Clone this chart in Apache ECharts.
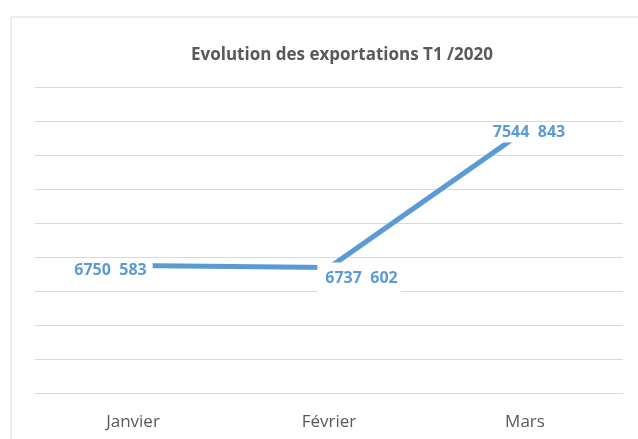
<!DOCTYPE html>
<html>
<head>
<meta charset="utf-8">
<script src="https://cdn.jsdelivr.net/npm/echarts@6/dist/echarts.min.js"></script>
<style>
  html, body { margin: 0; padding: 0; background: #fff; }
  #main { width: 638px; height: 439px; }
</style>
</head>
<body>
<div id="main"></div>
<script>
// données T1 2020
var mois = ["Janvier", "Février", "Mars"];
var exportations = [6750583, 6737602, 7544843];

// position des étiquettes (comme dans excel)
var labelOffsets = [[-21, 5], [30, 11], [4, 2]];
var labelPadding = [[2, 6, 2, 3], [14, 3, 2, 8], [2, 3, 2, 3]];

function formatNombre(v) {
  var s = String(v);
  return s.slice(0, -3) + "\u00a0\u00a0" + s.slice(-3);
}

var myChart = echarts.init(document.getElementById("main"));

var points = exportations.map(function (v, i) {
  return {
    value: v,
    label: {
      offset: labelOffsets[i],
      padding: labelPadding[i],
    },
  };
});

var option = {
  textStyle: { fontFamily: "Open Sans" },
  title: {
    text: "Evolution des exportations T1 /2020",
    left: 186,
    top: 42,
    textStyle: {
      fontFamily: "Open Sans",
      fontSize: 17,
      fontWeight: "bold",
      color: "#595959",
    },
  },
  graphic: [
    {
      type: "rect",
      shape: { x: 11, y: 17, width: 700, height: 500 },
      style: { fill: "none", stroke: "#d9d9d9", lineWidth: 1 },
      silent: true,
    },
  ],
  grid: {
    left: 35,
    right: 15,
    top: 87,
    bottom: 46,
  },
  xAxis: {
    type: "category",
    data: mois,
    boundaryGap: true,
    axisLine: { lineStyle: { color: "#d9d9d9", width: 1 } },
    axisTick: { show: false },
    axisLabel: {
      color: "#595959",
      fontSize: 17,
      fontFamily: "Open Sans",
      margin: 21,
    },
  },
  yAxis: {
    type: "value",
    min: 6000000,
    max: 7800000,
    interval: 200000,
    axisLine: { show: false },
    axisTick: { show: false },
    axisLabel: { show: false },
    splitLine: { lineStyle: { color: "#d9d9d9", width: 1 } },
  },
  series: [
    {
      type: "line",
      data: points,
      symbol: "circle",
      symbolSize: 1,
      itemStyle: { color: "#5B9BD5" },
      lineStyle: { color: "#5B9BD5", width: 5, cap: "butt" },
      z: 3,
      label: {
        show: true,
        position: "inside",
        color: "#5B9BD5",
        fontSize: 16,
        fontWeight: "bold",
        fontFamily: "Open Sans",
        backgroundColor: "#fff",
        formatter: function (p) {
          return formatNombre(p.value);
        },
      },
    },
  ],
};

option && myChart.setOption(option);
</script>
</body>
</html>
